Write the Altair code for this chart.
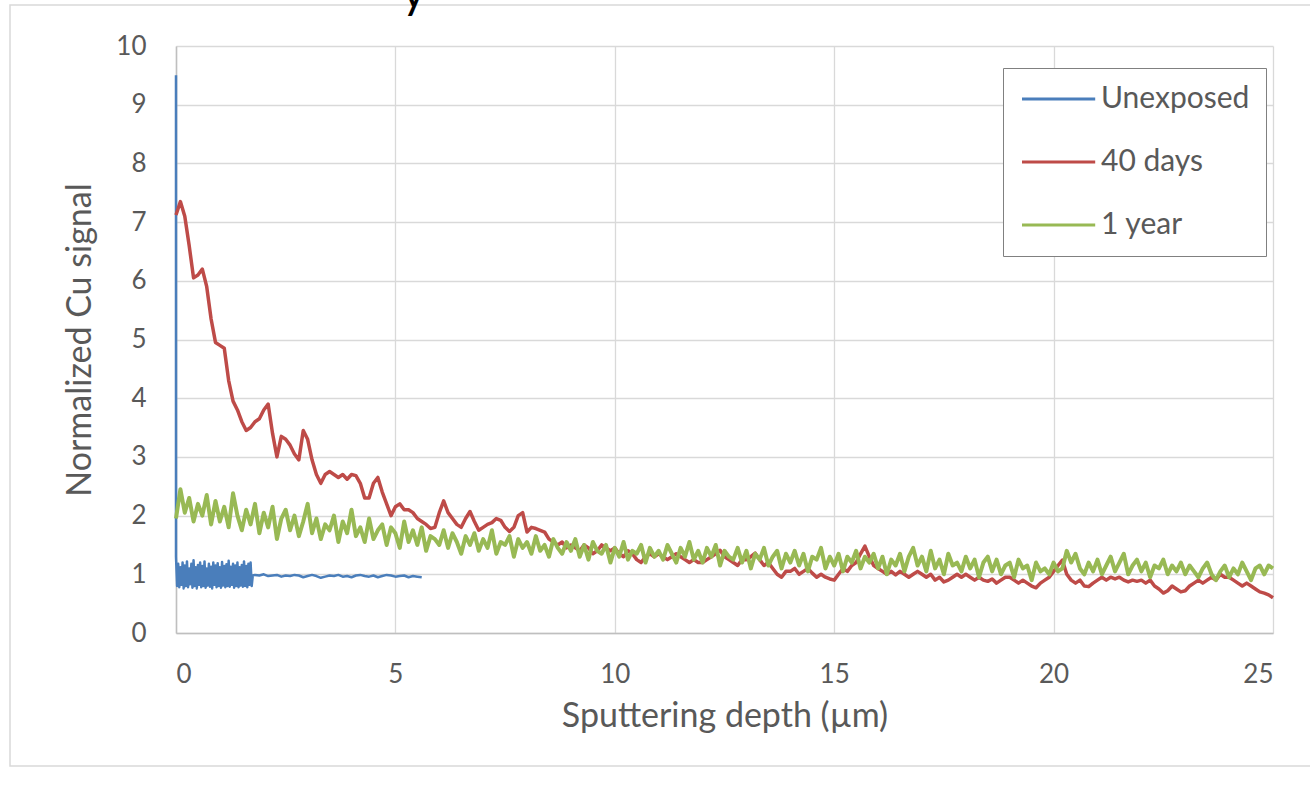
import altair as alt
import pandas as pd

# ---- data ----
series_names = ["Unexposed", "40 days", "1 year"]
series_colors = ["#4a7ebb", "#be4b48", "#98b954"]

# Unexposed: initial spike, dense noisy band (step 0.025 from 0), then smooth tail (step 0.1 from 1.8)
unexp_spike = [(0.0, 9.5)]
unexp_band_start, unexp_band_step = 0.0, 0.025
unexp_band = [
    1.30, 0.80, 1.18, 0.78, 1.12, 0.82, 1.20, 0.76, 1.15, 0.80,
    1.22, 0.78, 1.10, 0.83, 1.18, 0.77, 1.24, 0.80, 1.12, 0.76,
    1.16, 0.82, 1.20, 0.78, 1.14, 0.80, 1.22, 0.77, 1.10, 0.81,
    1.18, 0.79, 1.13, 0.76, 1.20, 0.82, 1.15, 0.78, 1.19, 0.80,
    1.12, 0.77, 1.21, 0.81, 1.14, 0.78, 1.17, 0.80, 1.23, 0.79,
    1.13, 0.82, 1.18, 0.77, 1.15, 0.80, 1.20, 0.78, 1.12, 0.81,
    1.16, 0.79, 1.22, 0.80, 1.14, 0.78, 1.18, 0.82, 1.20, 0.80,
    0.98,
]
unexp_tail_start, unexp_tail_step = 1.8, 0.1
unexp_tail = [
    0.99, 0.98, 1.00, 0.97, 0.98, 0.99, 0.96, 0.98, 0.97, 0.99,
    0.98, 0.95, 0.97, 0.99, 0.97, 0.94, 0.96, 0.98, 0.97, 0.99,
    0.96, 0.97, 0.95, 0.98, 0.99, 0.97, 0.96, 0.98, 0.95, 0.97,
    0.99, 0.98, 0.96, 0.97, 0.98, 0.95, 0.97, 0.96, 0.95,
]

# 40 days, step 0.1 from 0 to 25
days40_start, days40_step = 0.0, 0.1
days40 = [
    7.12, 7.35, 7.10, 6.60, 6.05, 6.10, 6.20, 5.90, 5.35, 4.95,
    4.90, 4.85, 4.30, 3.95, 3.80, 3.60, 3.45, 3.50, 3.60, 3.65,
    3.80, 3.90, 3.40, 3.00, 3.35, 3.30, 3.20, 3.05, 2.95, 3.45,
    3.30, 2.95, 2.70, 2.55, 2.70, 2.75, 2.70, 2.65, 2.70, 2.62,
    2.70, 2.68, 2.55, 2.30, 2.30, 2.55, 2.65, 2.40, 2.20, 2.00,
    2.15, 2.20, 2.10, 2.10, 2.05, 1.95, 1.90, 1.85, 1.78, 1.80,
    2.05, 2.25, 2.05, 1.95, 1.85, 1.80, 1.95, 2.07, 1.90, 1.75,
    1.80, 1.85, 1.88, 1.95, 1.92, 1.80, 1.73, 1.80, 2.00, 2.05,
    1.72, 1.80, 1.78, 1.75, 1.72, 1.60, 1.55, 1.50, 1.55, 1.45,
    1.50, 1.45, 1.40, 1.50, 1.45, 1.35, 1.40, 1.50, 1.45, 1.40,
    1.45, 1.35, 1.30, 1.40, 1.35, 1.25, 1.20, 1.30, 1.35, 1.30,
    1.35, 1.30, 1.25, 1.30, 1.35, 1.30, 1.25, 1.20, 1.25, 1.20,
    1.20, 1.25, 1.30, 1.35, 1.41, 1.30, 1.25, 1.20, 1.15, 1.25,
    1.25, 1.30, 1.36, 1.25, 1.15, 1.20, 1.10, 1.00, 0.95, 1.05,
    1.05, 1.10, 1.00, 1.05, 1.10, 1.02, 0.95, 1.00, 0.95, 0.92,
    0.90, 1.00, 1.10, 1.05, 1.15, 1.20, 1.35, 1.48, 1.30, 1.15,
    1.10, 1.05, 1.00, 1.05, 0.99, 1.05, 1.00, 0.95, 1.00, 1.05,
    1.00, 0.95, 1.00, 0.90, 0.95, 0.87, 0.90, 0.95, 1.00, 0.95,
    1.00, 0.95, 0.90, 0.95, 0.90, 0.88, 0.92, 0.85, 0.90, 0.95,
    0.95, 0.90, 0.85, 0.90, 0.85, 0.80, 0.77, 0.85, 0.90, 0.95,
    1.05, 1.15, 1.24, 1.00, 0.90, 0.85, 0.90, 0.80, 0.79, 0.85,
    0.90, 0.95, 0.90, 0.95, 0.92, 0.95, 0.90, 0.87, 0.90, 0.88,
    0.90, 0.85, 0.90, 0.80, 0.75, 0.68, 0.72, 0.80, 0.75, 0.70,
    0.72, 0.80, 0.85, 0.90, 0.85, 0.90, 0.95, 0.90, 1.00, 0.95,
    0.95, 0.90, 0.85, 0.80, 0.85, 0.80, 0.75, 0.70, 0.68, 0.65,
    0.60,
]

# 1 year, step 0.1 from 0 to 25
year1_start, year1_step = 0.0, 0.1
year1 = [
    1.95, 2.45, 2.05, 2.30, 1.90, 2.20, 2.00, 2.35, 1.85, 2.25,
    1.90, 2.15, 1.80, 2.38, 2.00, 1.75, 2.10, 1.85, 2.20, 1.70,
    2.05, 1.80, 2.15, 1.60, 1.95, 2.10, 1.75, 2.00, 1.65, 1.90,
    2.20, 1.70, 1.95, 1.60, 1.85, 1.75, 2.00, 1.55, 1.90, 1.70,
    2.10, 1.65, 1.80, 1.55, 1.95, 1.60, 1.75, 1.85, 1.50, 1.80,
    1.70, 1.45, 1.90, 1.55, 1.75, 1.50, 1.80, 1.40, 1.65, 1.60,
    1.50, 1.75, 1.45, 1.70, 1.55, 1.35, 1.65, 1.50, 1.70, 1.40,
    1.60, 1.45, 1.75, 1.35, 1.55, 1.50, 1.65, 1.30, 1.60, 1.45,
    1.55, 1.35, 1.65, 1.40, 1.50, 1.30, 1.60, 1.45, 1.35, 1.55,
    1.40, 1.60, 1.30, 1.50, 1.25, 1.55, 1.40, 1.35, 1.50, 1.20,
    1.45, 1.30, 1.55, 1.25, 1.40, 1.35, 1.50, 1.20, 1.45, 1.30,
    1.40, 1.25, 1.50, 1.35, 1.20, 1.45, 1.30, 1.55, 1.25, 1.40,
    1.20, 1.45, 1.30, 1.50, 1.15, 1.40, 1.30, 1.25, 1.45, 1.20,
    1.40, 1.10, 1.35, 1.25, 1.45, 1.15, 1.30, 1.40, 1.10, 1.35,
    1.20, 1.40, 1.15, 1.35, 1.05, 1.30, 1.25, 1.45, 1.10, 1.30,
    1.15, 1.35, 1.05, 1.30, 1.20, 1.40, 1.10, 1.30, 1.20, 1.35,
    1.10, 1.30, 1.00, 1.25, 1.15, 1.35, 1.05, 1.30, 1.45, 1.15,
    1.30, 1.05, 1.40, 1.10, 1.25, 1.00, 1.35, 1.15, 1.20, 1.05,
    1.30, 1.10, 1.25, 0.95, 1.20, 1.30, 1.05, 1.25, 1.00, 1.15,
    1.20, 0.95, 1.25, 1.10, 1.15, 0.90, 1.20, 1.05, 1.10, 1.00,
    1.20, 1.05, 1.10, 1.40, 1.20, 1.35, 1.10, 1.00, 1.20, 1.05,
    1.25, 1.00, 1.15, 1.30, 1.05, 1.20, 1.35, 1.00, 1.15, 1.25,
    1.05, 1.20, 0.95, 1.15, 1.10, 1.25, 1.00, 1.15, 1.05, 1.20,
    1.00, 1.15, 1.05, 0.95, 1.10, 1.20, 1.00, 0.90, 1.05, 1.15,
    0.95, 1.10, 1.00, 1.20, 1.05, 0.90, 1.10, 1.15, 1.00, 1.15,
    1.10,
]

x_ticks = [0, 5, 10, 15, 20, 25]
y_ticks = list(range(0, 11))

# ---- tables ----
def build(name, start, step, values, prefix=None):
    rows = []
    if prefix:
        for d, v in prefix:
            rows.append((d, v))
    for i, v in enumerate(values):
        rows.append((round(start + i * step, 4), v))
    return pd.DataFrame({"depth": [r[0] for r in rows],
                         "signal": [r[1] for r in rows],
                         "series": name,
                         "idx": list(range(len(rows)))})

df_unexp = pd.concat([
    build("Unexposed", unexp_band_start, unexp_band_step, unexp_band, prefix=unexp_spike),
    build("Unexposed", unexp_tail_start, unexp_tail_step, unexp_tail),
], ignore_index=True)
df_unexp["idx"] = range(len(df_unexp))
df_40 = build("40 days", days40_start, days40_step, days40)
df_1y = build("1 year", year1_start, year1_step, year1)

FONT = "Lato"
GRAY = "#595959"

color = alt.Color(
    "series:N",
    scale=alt.Scale(domain=series_names, range=series_colors),
    legend=alt.Legend(
        title=None, orient="none", legendX=827, legendY=22,
        symbolType="M-1,0H5.1", symbolSize=576, symbolStrokeWidth=3,
        labelOffset=52, labelFontSize=30, labelFont=FONT, labelColor=GRAY,
        strokeColor="#808080", fillColor="white", padding=16, rowPadding=33,
    ),
)

x_enc = alt.X("depth:Q", scale=alt.Scale(domain=[0, 25], nice=False),
              axis=alt.Axis(values=x_ticks, title="Sputtering depth (µm)"))
y_enc = alt.Y("signal:Q", scale=alt.Scale(domain=[0, 10], nice=False),
              axis=alt.Axis(values=y_ticks, title="Normalized Cu signal"))

def line(df, w):
    return alt.Chart(df).mark_line(strokeWidth=w, strokeJoin="round").encode(
        x=x_enc, y=y_enc, color=color, order=alt.Order("idx:Q"))

one = pd.DataFrame({"k": [0]})
border = alt.Chart(one).mark_rect(fillOpacity=0, stroke="#d9d9d9", strokeWidth=1.5).encode(
    x=alt.value(-166), x2=alt.value(1200), y=alt.value(-41), y2=alt.value(720))
cut_title = alt.Chart(one).mark_text(text="y", font=FONT, fontSize=46, color="black",
                                     align="left", baseline="alphabetic").encode(
    x=alt.value(226), y=alt.value(-38))

chart = alt.layer(
    border,
    line(df_unexp, 2.5),
    line(df_40, 3.5),
    line(df_1y, 4),
    cut_title,
).properties(
    width=1097, height=587,
    autosize=alt.AutoSizeParams(type="none"),
    padding={"left": 176, "top": 46, "right": 37, "bottom": 159},
    background="white",
).configure_view(
    strokeWidth=0
).configure_axis(
    grid=True, gridColor="#d9d9d9", gridWidth=1.3,
    domainColor="#bfbfbf", domainWidth=1.5,
    ticks=False,
    labelFont=FONT, labelFontSize=26, labelColor=GRAY,
    titleFont=FONT, titleFontSize=34, titleColor=GRAY, titleFontWeight="normal",
).configure_axisY(
    labelPadding=30, titlePadding=18,
).configure_axisX(
    labelPadding=28, titlePadding=12,
)

chart.save("out.html", embed_options={"renderer": "svg", "actions": False})
